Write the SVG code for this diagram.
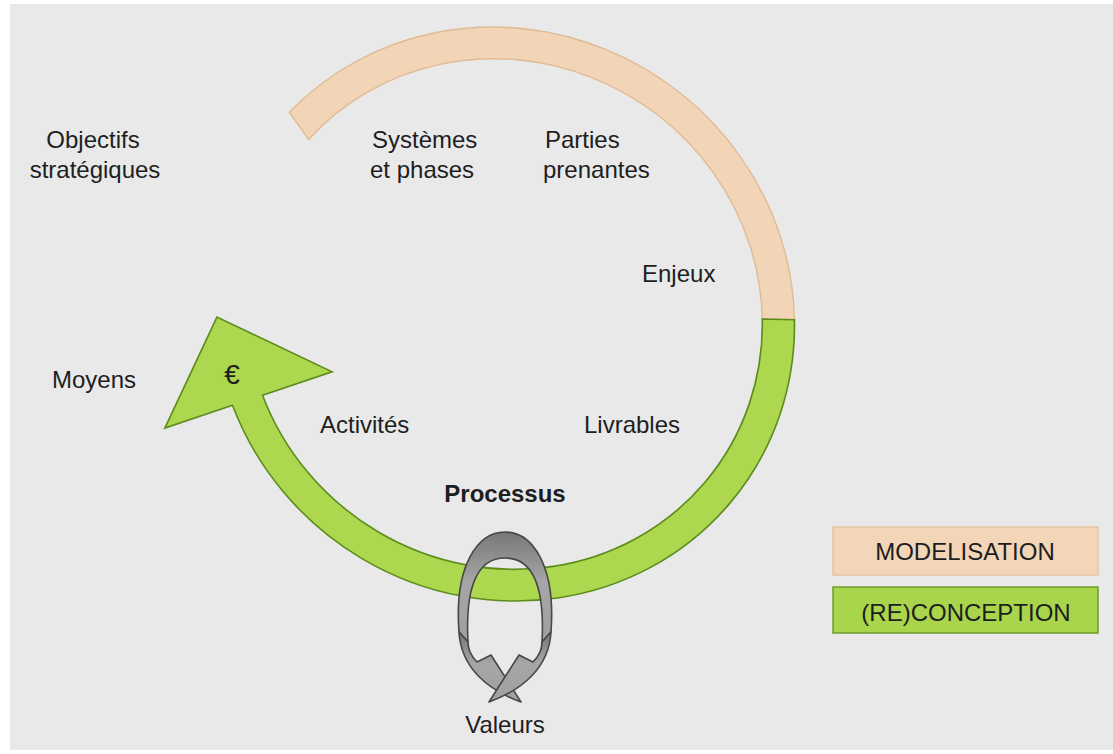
<svg xmlns="http://www.w3.org/2000/svg" width="1113" height="754" viewBox="0 0 1113 754">
<defs>
<style>
.lbl{font-family:"Liberation Sans",Arial,sans-serif;font-size:24px;fill:#1e1e1e;}
.bold{font-weight:bold;}
.peach{fill:#f2d4b6;stroke:#dfbb94;stroke-width:1.4;}
.green{fill:#acd74e;stroke:#5c8c1c;stroke-width:1.6;}
.loop{fill:url(#gr);stroke:#474747;stroke-width:1.6;stroke-linejoin:round;}
</style>
<linearGradient id="gr" x1="0" y1="0" x2="0" y2="1">
<stop offset="0" stop-color="#777777"/>
<stop offset="0.45" stop-color="#a6a6a6"/>
<stop offset="1" stop-color="#a0a0a0"/>
</linearGradient>
</defs>
<rect x="0" y="0" width="1113" height="754" fill="#ffffff"/>
<rect x="10" y="4" width="1103" height="746" fill="#e9e9ea"/>

<g id="connectors">
<g id="ring" transform="translate(504,314) scale(1,0.988) rotate(45) scale(1.025,0.985) rotate(-45)">
<path id="arc-modelisation" class="peach" d="M -209.6,-198.9 A 289 289 0 0 1 289,0 L 257,0 A 257 257 0 0 0 -191.0,-172.0 Z"/>
<path id="arc-reconception" class="green" d="M 289,0 A 289 289 0 0 1 -272.1,97.4 L -339.9,121.7 L -285.8,8.8 L -172.3,61.7 L -242.0,86.6 A 257 257 0 0 0 257,0 Z"/>
</g>
<g id="loop">
<path class="loop" d="M 459,632 C 454,565 478,532 505,532 C 532,532 556,565 551,632 L 542,642 C 545,585 532,558 505,558 C 478,558 465,585 468,642 Z"/>
<path class="loop" d="M 459,632 C 461,668 488,690 521,702 L 491,655 L 477,662 C 471,656 468,650 468,642 Z"/>
<path class="loop" d="M 551,632 C 549,668 522,690 489,702 L 519,655 L 533,662 C 539,656 542,650 542,642 Z"/>
</g>
</g>

<g id="node-objectifs"><text class="lbl" x="93" y="148" text-anchor="middle">Objectifs</text><text class="lbl" x="95" y="178" text-anchor="middle">stratégiques</text></g>
<g id="node-systemes"><text class="lbl" x="372" y="148">Systèmes</text><text class="lbl" x="370" y="178">et phases</text></g>
<g id="node-parties"><text class="lbl" x="545" y="148">Parties</text><text class="lbl" x="543" y="178">prenantes</text></g>
<g id="node-enjeux"><text class="lbl" x="642" y="282">Enjeux</text></g>
<g id="node-moyens"><text class="lbl" x="52" y="388">Moyens</text></g>
<g id="node-euro"><text class="lbl" x="232" y="384" text-anchor="middle" style="font-size:28px">€</text></g>
<g id="node-activites"><text class="lbl" x="320" y="433">Activités</text></g>
<g id="node-livrables"><text class="lbl" x="584" y="433">Livrables</text></g>
<g id="node-processus"><text class="lbl bold" x="505" y="502" text-anchor="middle">Processus</text></g>
<g id="node-valeurs"><text class="lbl" x="505" y="733" text-anchor="middle">Valeurs</text></g>

<g id="legend-modelisation">
<rect x="833" y="527" width="265" height="48" fill="#f3d5b8" stroke="#e6c4a2" stroke-width="1.5"/>
<text class="lbl" x="965" y="560" text-anchor="middle">MODELISATION</text>
</g>
<g id="legend-reconception">
<rect x="833" y="587" width="265" height="46" fill="#a9d54c" stroke="#6c9a2c" stroke-width="1.5"/>
<text class="lbl" x="966" y="621" text-anchor="middle">(RE)CONCEPTION</text>
</g>
</svg>
